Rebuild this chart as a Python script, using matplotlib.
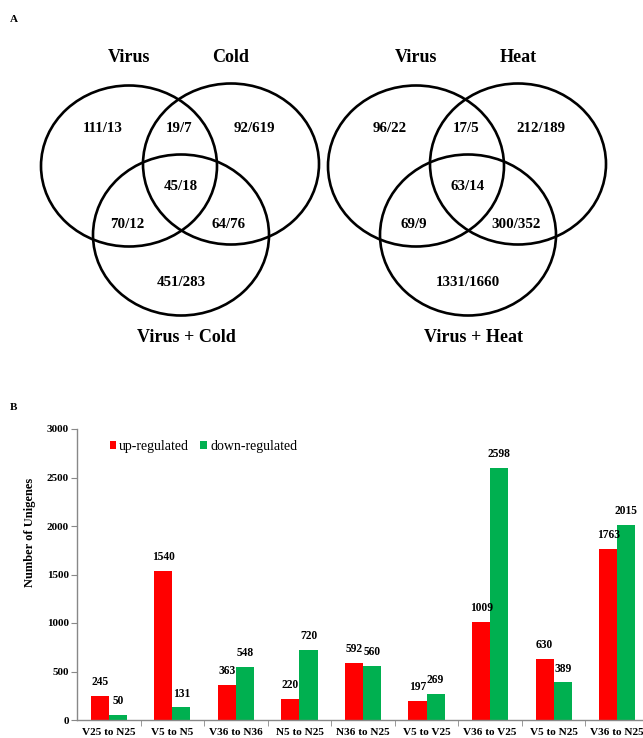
import matplotlib.pyplot as plt
from matplotlib.patches import Ellipse
import numpy as np

plt.rcParams['font.family'] = ['Liberation Serif', 'DejaVu Serif']

# Venn data (up/down counts per region)
cold_sets = ['Virus', 'Cold', 'Virus + Cold']
cold_counts = ['111/13', '19/7', '92/619', '45/18', '70/12', '64/76', '451/283']
heat_sets = ['Virus', 'Heat', 'Virus + Heat']
heat_counts = ['96/22', '17/5', '212/189', '63/14', '69/9', '300/352', '1331/1660']

# Bar data
comparisons = ['V25 to N25', 'V5 to N5', 'V36 to N36', 'N5 to N25', 'N36 to N25',
               'V5 to V25', 'V36 to V25', 'V5 to N25', 'V36 to N25']
up_regulated = [245, 1540, 363, 220, 592, 197, 1009, 630, 1763]
down_regulated = [50, 131, 548, 720, 560, 269, 2598, 389, 2015]

W, H = 643, 738
fig = plt.figure(figsize=(W / 100, H / 100), dpi=100)

# ---- panel A: two venn diagrams, drawn in pixel space ----
va = fig.add_axes([0, 0, 1, 1])
va.set_xlim(0, W)
va.set_ylim(H, 0)
va.axis('off')


def draw_venn(ax, cx, names, counts):
    # circle centres relative to the middle of the diagram
    centres = [(cx - 52, 166), (cx + 50, 164), (cx, 235)]
    for (x, y) in centres:
        ax.add_patch(Ellipse((x, y), 176, 161, fill=False, lw=1.9, ec='black'))
    ax.text(cx - 52, 58, names[0], ha='center', va='center', fontsize=13, fontweight='bold')
    ax.text(cx + 50, 58, names[1], ha='center', va='center', fontsize=13, fontweight='bold')
    ax.text(cx + 5, 338, names[2], ha='center', va='center', fontsize=13, fontweight='bold')
    spots = [(-78, 128), (-2, 128), (73, 128), (0, 187), (-54, 225), (48, 225), (0, 283)]
    for (dx, y), c in zip(spots, counts):
        ax.text(cx + dx, y, c, ha='center', va='center', fontsize=10.8, fontweight='bold')


draw_venn(va, 181, cold_sets, cold_counts)
draw_venn(va, 468, heat_sets, heat_counts)
va.text(14, 20, 'A', ha='center', va='center', fontsize=8, fontweight='bold')
va.text(14, 408, 'B', ha='center', va='center', fontsize=8, fontweight='bold')

# ---- panel B: grouped bars ----
x0, x1, y0, y1 = 77, 649, 720, 429
ax = fig.add_axes([x0 / W, (H - y0) / H, (x1 - x0) / W, (y0 - y1) / H])
x = np.arange(len(comparisons))
bw = 0.285
ax.bar(x - bw / 2, up_regulated, bw, color='#FF0000', label='up-regulated')
ax.bar(x + bw / 2, down_regulated, bw, color='#00B050', label='down-regulated')
for i in range(len(x)):
    ax.text(x[i] - bw / 2, up_regulated[i] + 80, str(up_regulated[i]), ha='center', va='bottom',
            fontsize=8.3, fontweight='bold')
    ax.text(x[i] + bw / 2, down_regulated[i] + 80, str(down_regulated[i]), ha='center', va='bottom',
            fontsize=8.3, fontweight='bold')

ax.set_xlim(-0.5, len(x) - 0.5)
ax.set_ylim(0, 3000)
ax.set_yticks(range(0, 3001, 500))
ax.set_xticks(x)
ax.set_xticklabels(comparisons, fontsize=8.1, fontweight='bold')
ax.set_xticks(np.arange(0.5, len(x) - 0.5, 1), minor=True)
ax.tick_params(axis='x', which='major', length=0, pad=6)
ax.tick_params(axis='x', which='minor', length=4, color='#888888')
ax.tick_params(axis='y', length=4, color='#888888', labelsize=8, pad=2)
for lab in ax.get_yticklabels():
    lab.set_fontweight('bold')
for s in ['top', 'right']:
    ax.spines[s].set_visible(False)
for s in ['left', 'bottom']:
    ax.spines[s].set_color('#888888')
    ax.spines[s].set_linewidth(1)
ax.set_ylabel('Number of Unigenes', fontsize=9, fontweight='bold', labelpad=12)
ax.yaxis.set_label_coords(-0.072, 0.646)

ax.legend(loc='upper left', bbox_to_anchor=(0.035, 1.005), ncol=2, frameon=False, fontsize=10,
          handlelength=0.5, handleheight=0.5, handletextpad=0.2, columnspacing=0.8)

fig.savefig('out.png', dpi=100)
